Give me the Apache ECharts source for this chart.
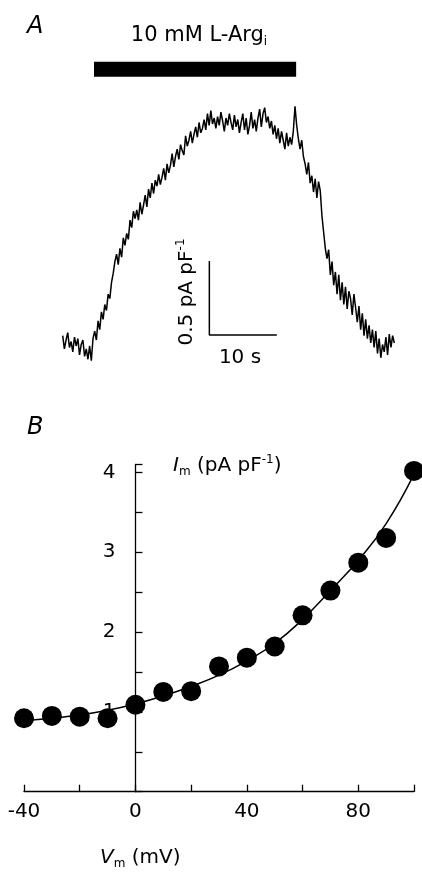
<!DOCTYPE html>
<html>
<head>
<meta charset="utf-8">
<script src="https://cdn.jsdelivr.net/npm/echarts@6/dist/echarts.min.js"></script>
<style>
  html, body { margin: 0; padding: 0; background: #fff; }
  #chart { width: 422px; height: 872px; }
</style>
</head>
<body>
<div id="chart"></div>
<script>
// Panel A: current trace, sampled every 0.25 s (pA pF-1)
var traceStep = 0.25;
var traceValues = [
  0.05, -0.04, 0.02, 0.07,  -0.03, 0.01, -0.06, 0.04,  -0.02, 0.03, -0.08, -0.01,
  0.02, -0.09, -0.04, -0.11,  -0.02, -0.12, 0.03, 0.08,  0.02, 0.15, 0.09, 0.21,
  0.16, 0.26, 0.22, 0.33,  0.30, 0.41, 0.47, 0.55,  0.60, 0.53, 0.64, 0.58,
  0.71, 0.66, 0.74, 0.70,  0.83, 0.78, 0.89, 0.84,  0.90, 0.83, 0.95, 0.87,
  0.93, 1.00, 0.92, 1.04,  0.98, 1.08, 1.01, 1.10,  1.06, 1.14, 1.07, 1.12,
  1.18, 1.10, 1.21, 1.15,  1.20, 1.28, 1.19, 1.26,  1.31, 1.24, 1.34, 1.30,
  1.27, 1.40, 1.33, 1.37,  1.43, 1.35, 1.41, 1.46,  1.39, 1.49, 1.42, 1.45,
  1.51, 1.44, 1.55, 1.47,  1.57, 1.48, 1.52, 1.45,  1.53, 1.47, 1.56, 1.50,
  1.43, 1.52, 1.47, 1.55,  1.49, 1.44, 1.54, 1.46,  1.51, 1.42, 1.49, 1.55,
  1.44, 1.52, 1.41, 1.47,  1.56, 1.45, 1.51, 1.43,  1.52, 1.58, 1.46, 1.55,
  1.59, 1.49, 1.53, 1.45,  1.50, 1.41, 1.47, 1.38,  1.45, 1.35, 1.43, 1.37,
  1.31, 1.42, 1.33, 1.39,  1.34, 1.43, 1.60, 1.47,  1.38, 1.31, 1.37, 1.26,
  1.21, 1.14, 1.22, 1.08,  1.13, 1.02, 1.11, 0.98,  1.09, 1.03, 0.86, 0.75,
  0.64, 0.57, 0.63, 0.46,  0.55, 0.39, 0.48, 0.33,  0.46, 0.29, 0.41, 0.26,
  0.38, 0.23, 0.35, 0.30,  0.19, 0.33, 0.24, 0.14,  0.25, 0.09, 0.20, 0.05,
  0.16, 0.03, 0.12, 0.00,  0.09, -0.03, 0.08, -0.07,  0.03, -0.10, -0.01, -0.06,
  0.04, -0.08, 0.06, -0.03,  0.05, 0.00
];
// application bar (s) and its level
var barTimes = [4.65, 34.67];
var barLevel = 1.85;
// scale bar: 10 s x 0.5 pA pF-1
var scaleX = [21.78, 21.78, 31.8];
var scaleY = [0.554, 0.054, 0.054];

// Panel B: I-V relation
var voltages = [-40, -30, -20, -10, 0, 10, 20, 30, 40, 50, 60, 70, 80, 90, 100];
var currents = [0.92, 0.95, 0.94, 0.92, 1.09, 1.25, 1.26, 1.57, 1.68, 1.82, 2.21, 2.52, 2.87, 3.18, 4.02];
var fitV = [-40, -30, -20, -10, 0, 10, 20, 30, 40, 50, 60, 70, 80, 90, 100];
var fitI = [0.89, 0.92, 0.96, 1.02, 1.10, 1.20, 1.32, 1.46, 1.64, 1.86, 2.16, 2.52, 2.90, 3.36, 3.98];

var FONT = 'DejaVu Sans';
// panel B plot area (px), used to put the y axis on V = 0
var bLeft = 24, bRight = 8;
var vMin = -40, vMax = 100;
var zeroOffset = (0 - vMin) / (vMax - vMin) * (422 - bLeft - bRight);

var traceData = traceValues.map(function (v, i) { return [i * traceStep, v]; });
var scaleData = scaleX.map(function (x, i) { return [x, scaleY[i]]; });
var fitData = fitV.map(function (v, i) { return [v, fitI[i]]; });
var pointData = voltages.map(function (v, i) { return [v, currents[i]]; });

var chart = echarts.init(document.getElementById('chart'));
var option = {
  animation: false,
  backgroundColor: '#fff',
  grid: [
    { left: 62.7, right: 26, top: 47, bottom: 455, outerBoundsMode: 'none', containLabel: false },
    { left: bLeft, right: bRight, top: 464.5, bottom: 80.3, outerBoundsMode: 'none', containLabel: false }
  ],
  xAxis: [
    { gridIndex: 0, type: 'value', min: 0, max: 49.5, show: false },
    {
      gridIndex: 1, type: 'value', min: vMin, max: vMax, interval: 20,
      splitLine: { show: false },
      axisLine: { onZero: false, lineStyle: { color: '#000', width: 1.3 } },
      axisTick: { inside: true, length: 7, lineStyle: { color: '#000', width: 1.3 } },
      axisLabel: {
        color: '#000', fontFamily: FONT, fontSize: 20, margin: 10,
        formatter: function (v) { return v % 40 === 0 ? String(v) : ''; }
      }
    }
  ],
  yAxis: [
    { gridIndex: 0, type: 'value', min: -0.5, max: 2.0, show: false },
    {
      gridIndex: 1, type: 'value', min: 0, max: 4.1, interval: 0.5,
      offset: -zeroOffset,
      splitLine: { show: false },
      axisLine: { onZero: false, lineStyle: { color: '#000', width: 1.3 } },
      axisTick: { inside: true, length: 7, lineStyle: { color: '#000', width: 1.3 } },
      axisLabel: {
        color: '#000', fontFamily: FONT, fontSize: 20, margin: 20,
        formatter: function (v) { return (v >= 1 && v % 1 === 0) ? String(v) : ''; }
      }
    }
  ],
  series: [
    {
      type: 'line', xAxisIndex: 0, yAxisIndex: 0, data: traceData,
      showSymbol: false, lineStyle: { color: '#000', width: 1.5 }
    },
    {
      type: 'line', xAxisIndex: 0, yAxisIndex: 0,
      data: [[barTimes[0], barLevel], [barTimes[1], barLevel]],
      showSymbol: false, lineStyle: { color: '#000', width: 15, cap: 'butt' }
    },
    {
      type: 'line', xAxisIndex: 0, yAxisIndex: 0, data: scaleData,
      showSymbol: false, lineStyle: { color: '#000', width: 1.5, cap: 'butt' }
    },
    {
      type: 'line', xAxisIndex: 1, yAxisIndex: 1, data: fitData,
      smooth: true, showSymbol: false, lineStyle: { color: '#000', width: 1.5 }
    },
    {
      type: 'scatter', xAxisIndex: 1, yAxisIndex: 1, data: pointData,
      symbol: 'circle', symbolSize: 20, itemStyle: { color: '#000', opacity: 1 }, z: 5
    }
  ],
  graphic: [
    {
      type: 'text', left: 27, top: 15,
      style: { text: 'A', font: 'italic 24px "DejaVu Sans"', fill: '#000' }
    },
    {
      type: 'text', left: 27, top: 416,
      style: { text: 'B', font: 'italic 24px "DejaVu Sans"', fill: '#000' }
    },
    {
      type: 'text', x: 199, y: 36,
      style: {
        text: '{m|10 mM L-Arg}{s|i}', align: 'center', verticalAlign: 'middle',
        rich: {
          m: { fontFamily: FONT, fontSize: 21, fill: '#000', verticalAlign: 'middle' },
          s: { fontFamily: FONT, fontSize: 12, fill: '#000', verticalAlign: 'bottom', padding: [12, 0, 0, 0] }
        }
      }
    },
    {
      type: 'text', x: 187, y: 292, rotation: Math.PI / 2,
      style: {
        text: '{m|0.5 pA pF}{s|-1}', align: 'center', verticalAlign: 'middle',
        rich: {
          m: { fontFamily: FONT, fontSize: 20, fill: '#000' },
          s: { fontFamily: FONT, fontSize: 12, fill: '#000', verticalAlign: 'top', padding: [0, 0, 12, 0] }
        }
      }
    },
    {
      type: 'text', x: 240, y: 358,
      style: { text: '10 s', font: '20px "DejaVu Sans"', fill: '#000', align: 'center', verticalAlign: 'middle' }
    },
    {
      type: 'text', x: 173, y: 466,
      style: {
        text: '{i|I}{s|m}{m| (pA pF}{p|-1}{m|)}', align: 'left', verticalAlign: 'middle',
        rich: {
          i: { fontFamily: FONT, fontStyle: 'italic', fontSize: 20, fill: '#000' },
          m: { fontFamily: FONT, fontSize: 20, fill: '#000' },
          s: { fontFamily: FONT, fontSize: 12, fill: '#000', padding: [12, 0, 0, 0] },
          p: { fontFamily: FONT, fontSize: 12, fill: '#000', padding: [0, 0, 12, 0] }
        }
      }
    },
    {
      type: 'text', x: 100, y: 858,
      style: {
        text: '{i|V}{s|m}{m| (mV)}', align: 'left', verticalAlign: 'middle',
        rich: {
          i: { fontFamily: FONT, fontStyle: 'italic', fontSize: 20, fill: '#000' },
          m: { fontFamily: FONT, fontSize: 20, fill: '#000' },
          s: { fontFamily: FONT, fontSize: 12, fill: '#000', padding: [12, 0, 0, 0] }
        }
      }
    }
  ]
};
chart.setOption(option);
</script>
</body>
</html>
